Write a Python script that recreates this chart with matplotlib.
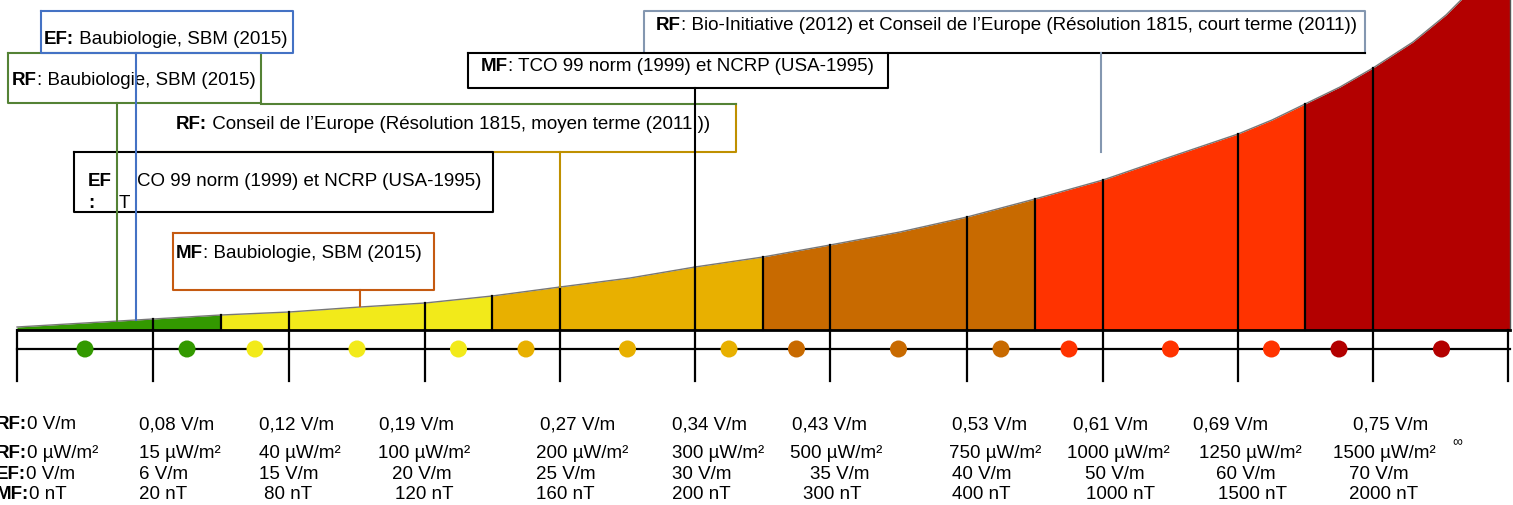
import matplotlib.pyplot as plt
import numpy as np

plt.rcParams['font.family'] = ['Liberation Sans', 'DejaVu Sans']

# scale boundaries and the height of the curve (pixel units)
bounds = [17, 153, 221, 289, 425, 492, 560, 695, 763, 830, 967, 1035, 1103, 1238, 1305, 1373, 1510]
curve_x = [17, 153, 221, 289, 360, 425, 492, 560, 630, 695, 763, 830, 900, 967, 1035, 1103, 1170,
           1238, 1272, 1305, 1340, 1373, 1413, 1446, 1461, 1485, 1510]
curve_y = [327, 319, 315, 312, 307, 303, 296, 287, 278, 267, 257, 245, 232, 217, 199, 180, 157,
           134, 120, 104, 87, 68, 42, 15, 0, -18, -40]

level_colors = ['#339900', '#F2EA1A', '#E8B000', '#C86A00', '#FF3300', '#B30000']
seg_level = [0, 0, 1, 1, 1, 2, 2, 2, 3, 3, 3, 4, 4, 4, 5, 5]

tick_x = [17, 153, 289, 425, 560, 695, 830, 967, 1103, 1238, 1373, 1508]

rf_vm = ['0 V/m', '0,08 V/m', '0,12 V/m', '0,19 V/m', '0,27 V/m', '0,34 V/m', '0,43 V/m',
         '0,53 V/m', '0,61 V/m', '0,69 V/m', '0,75 V/m']
rf_uw = ['0 µW/m²', '15 µW/m²', '40 µW/m²', '100 µW/m²', '200 µW/m²', '300 µW/m²', '500 µW/m²',
         '750 µW/m²', '1000 µW/m²', '1250 µW/m²', '1500 µW/m²']
ef_vm = ['0 V/m', '6 V/m', '15 V/m', '20 V/m', '25 V/m', '30 V/m', '35 V/m', '40 V/m',
         '50 V/m', '60 V/m', '70 V/m']
mf_nt = ['0 nT', '20 nT', '80 nT', '120 nT', '160 nT', '200 nT', '300 nT', '400 nT',
         '1000 nT', '1500 nT', '2000 nT']

# where each label row starts (layout)
rf_vm_x = [-4, 139, 259, 379, 540, 672, 792, 952, 1073, 1193, 1353]
rf_uw_x = [-4, 139, 259, 378, 536, 672, 790, 949, 1067, 1199, 1333]
ef_vm_x = [-4, 139, 259, 392, 536, 672, 810, 952, 1085, 1216, 1349]
mf_nt_x = [-4, 139, 264, 395, 536, 672, 803, 952, 1086, 1218, 1349]

FS = 13.5

fig = plt.figure(figsize=(15.13, 5.05), dpi=100)
ax = fig.add_axes([0, 0, 1, 1])
ax.set_xlim(0, 1513)
ax.set_ylim(505, 0)
ax.axis('off')
r = fig.canvas.get_renderer()

base = 330
cx = np.array(curve_x)
cy = np.array(curve_y)

# coloured wedge
for i in range(len(bounds) - 1):
    a, b = bounds[i], bounds[i + 1]
    m = (cx >= a) & (cx <= b)
    ax.fill_between(cx[m], cy[m], base, color=level_colors[seg_level[i]], lw=0, zorder=1)
ax.plot(cx, cy, color='#777777', lw=1, zorder=2)
ax.plot([1510, 1510], [0, base], color='#555555', lw=1, zorder=2)
for b in bounds[1:-1]:
    ax.plot([b, b], [np.interp(b, cx, cy), base], color='black', lw=1.6, zorder=3)

# scale bar
ax.plot([17, 1510], [base, base], color='black', lw=2, zorder=3)
ax.plot([17, 1510], [349, 349], color='black', lw=1.6, zorder=3)
for t in tick_x:
    ax.plot([t, t], [base, 381], color='black', lw=1.6, zorder=3)
mids = [(bounds[i] + bounds[i + 1]) / 2 for i in range(len(bounds) - 1)]
ax.scatter(mids, [349] * len(mids), s=150, c=[level_colors[l] for l in seg_level], zorder=4, lw=0)


def rich(x, y, bold, rest, size=FS):
    t = ax.text(x, y, bold, fontsize=size, fontweight='bold', va='baseline', ha='left', zorder=5)
    bb = t.get_window_extent(renderer=r)
    xe = ax.transData.inverted().transform((bb.x1, bb.y0))[0]
    if rest:
        ax.text(xe, y, rest, fontsize=size, va='baseline', ha='left', zorder=5)


def box(x0, x1, y0, y1, color, lw=1.5):
    ax.plot([x0, x1, x1, x0, x0], [y0, y0, y1, y1, y0], color=color, lw=lw, zorder=6)


def lead(x, y0, y1, color):
    ax.plot([x, x], [y0, y1], color=color, lw=1.5, zorder=7)


# bottom labels
prefix = ['RF:', 'RF:', 'EF:', 'MF:']
rows = [(rf_vm, rf_vm_x, 429), (rf_uw, rf_uw_x, 458), (ef_vm, ef_vm_x, 479), (mf_nt, mf_nt_x, 499)]
for (labels, xs, yb), p in zip(rows, prefix):
    for j, (lab, x) in enumerate(zip(labels, xs)):
        if j == 0:
            rich(x, yb, p, lab)
        else:
            ax.text(x, yb, lab, fontsize=FS, va='baseline', ha='left')
ax.text(1452, 442, '∞', fontsize=10, va='center', ha='left')

blue = '#4472C4'
green = '#548235'
gold = '#BF9000'
orange = '#C55A11'
grayblue = '#8497B0'

# callouts
box(8, 261, 53, 103, green)
rich(12, 85, 'RF', ': Baubiologie, SBM (2015)')
box(41, 293, 11, 53, blue)
rich(44, 44, 'EF:', ' Baubiologie, SBM (2015)')

ax.plot([736, 736, 135], [104, 152, 152], color=gold, lw=1.5, zorder=6)
ax.plot([261, 736], [104, 104], color=green, lw=1.5, zorder=6)
rich(176, 129, 'RF:', ' Conseil de l’Europe (Résolution 1815, moyen terme (2011 ))')

box(74, 493, 152, 212, 'black')
ax.text(88, 186, 'EF', fontsize=FS, fontweight='bold', va='baseline', ha='left')
ax.text(88, 208, ':', fontsize=FS, fontweight='bold', va='baseline', ha='left')
ax.text(119, 208, 'T', fontsize=FS, va='baseline', ha='left')
ax.text(137, 186, 'CO 99 norm (1999) et NCRP (USA-1995)', fontsize=FS, va='baseline', ha='left')

box(173, 434, 233, 290, orange)
rich(176, 258, 'MF', ': Baubiologie, SBM (2015)')

ax.plot([644, 644, 1365, 1365], [53, 11, 11, 53], color=grayblue, lw=1.5, zorder=6)
rich(656, 30, 'RF', ': Bio-Initiative (2012) et Conseil de l’Europe (Résolution 1815, court terme (2011))')
ax.plot([888, 1365], [53, 53], color='black', lw=1.5, zorder=6)

box(468, 888, 53, 88, 'black')
rich(481, 71, 'MF', ': TCO 99 norm (1999) et NCRP (USA-1995)')

# leader lines
lead(117, 103, 321, green)
lead(136, 53, 320, blue)
lead(560, 152, 287, gold)
lead(695, 88, 267, 'black')
lead(360, 290, 306, orange)
lead(1101, 53, 152, grayblue)

fig.savefig('out.png', dpi=100)
